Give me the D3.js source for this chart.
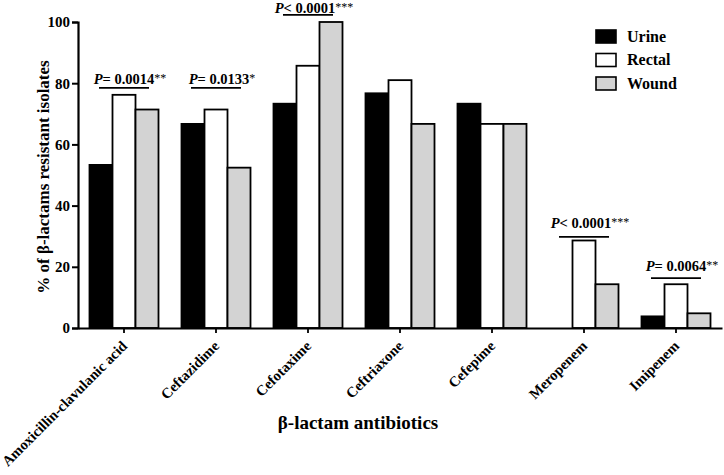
<!DOCTYPE html>
<html><head><meta charset="utf-8">
<script src="https://cdn.jsdelivr.net/npm/d3@7"></script>
<style>body{margin:0;background:#fff}svg{display:block}text{font-family:"Liberation Serif","Times New Roman",Times,serif;font-weight:bold}</style>
</head><body>
<svg id="c" width="724" height="475"></svg>
<script>
const categories = ["Amoxicillin-clavulanic acid","Ceftazidime","Cefotaxime","Ceftriaxone","Cefepime","Meropenem","Imipenem"];
const seriesNames = ["Urine","Rectal","Wound"];
const seriesColors = ["#000000","#ffffff","#d3d3d3"];
const urine  = [53.3, 66.7, 73.3, 76.7, 73.3, 0, 3.8];
const rectal = [76.2, 71.4, 85.7, 81.0, 66.7, 28.6, 14.3];
const wound  = [71.4, 52.4, 100, 66.7, 66.7, 14.3, 4.8];
const yTicks = [0,20,40,60,80,100];
const annotations = [
  {cat:"Amoxicillin-clavulanic acid", op:"=", p:"0.0014", stars:"**", level:78.5, textLevel:79.8},
  {cat:"Ceftazidime", op:"=", p:"0.0133", stars:"*", level:78.5, textLevel:79.8},
  {cat:"Cefotaxime", op:"<", p:"0.0001", stars:"***", level:102.3, textLevel:102.9},
  {cat:"Meropenem", op:"<", p:"0.0001", stars:"***", level:29.8, textLevel:32.6},
  {cat:"Imipenem", op:"=", p:"0.0064", stars:"**", level:16.3, textLevel:18.6}
];

const svg = d3.select("#c");
const mLeft = 78, mRight = 722, mTop = 22, mBottom = 328;
const x = d3.scaleBand().domain(categories).range([mLeft,mRight]).paddingInner(0.25).paddingOuter(0.125);
const xc = d3.scaleBand().domain(categories).range([mLeft,mRight]);
const xs = d3.scaleBand().domain(seriesNames).range([0,x.bandwidth()]);
const y = d3.scaleLinear().domain([0,100]).range([mBottom,mTop]);
const series = [urine,rectal,wound];

// bars
series.forEach((vals,si)=>{
  svg.append("g").selectAll("rect").data(categories).join("rect")
    .attr("x",c=>x(c)+xs(seriesNames[si]))
    .attr("y",(c,i)=>y(vals[i]))
    .attr("width",xs.bandwidth())
    .attr("height",(c,i)=>y(0)-y(vals[i]))
    .attr("fill",seriesColors[si])
    .attr("stroke","#000").attr("stroke-width",(c,i)=>vals[i]>0?1.8:0);
});

// axes
const ya = svg.append("g").attr("transform",`translate(${mLeft},0)`)
  .call(d3.axisLeft(y).tickValues(yTicks).tickSize(6).tickPadding(2));
ya.select(".domain").attr("stroke-width",2.2);
ya.selectAll(".tick line").attr("stroke-width",2);
ya.selectAll(".tick text").attr("font-size",15).attr("fill","#000").attr("font-family","Liberation Serif").attr("font-weight","bold");

const xa = svg.append("g").attr("transform",`translate(0,${mBottom})`)
  .call(d3.axisBottom(xc).tickSize(5).tickSizeOuter(0));
xa.select(".domain").attr("stroke-width",2.2);
xa.selectAll(".tick line").attr("stroke-width",1.8);
xa.selectAll(".tick text").attr("font-size",14.6).attr("fill","#000")
  .attr("font-family","Liberation Serif").attr("font-weight","bold")
  .attr("text-anchor","end").attr("dy",null).attr("y",0)
  .attr("transform","translate(4,19) rotate(-45)");

// axis titles
svg.append("text").attr("transform",`translate(49,${(mTop+mBottom)/2+2}) rotate(-90)`)
  .attr("text-anchor","middle").attr("font-size",17).text("% of β-lactams resistant isolates");
svg.append("text").attr("x",358).attr("y",429).attr("text-anchor","middle").attr("font-size",19).text("β-lactam antibiotics");

// annotations
annotations.forEach(a=>{
  const x1 = x(a.cat)+xs.bandwidth()/2-2, x2 = x(a.cat)+x.bandwidth()-xs.bandwidth()/2+2;
  svg.append("line").attr("x1",x1).attr("x2",x2).attr("y1",y(a.level)).attr("y2",y(a.level))
    .attr("stroke","#000").attr("stroke-width",1.8);
  const t = svg.append("text").attr("x",(x1+x2)/2+6).attr("y",y(a.textLevel)).attr("text-anchor","middle").attr("font-size",14.5);
  t.append("tspan").attr("font-style","italic").text("P");
  t.append("tspan").text(a.op+" "+a.p);
  t.append("tspan").attr("font-weight","normal").attr("font-size",12).attr("dy",-2).text(a.stars);
});

// legend
const lg = svg.append("g").attr("transform","translate(596,30)");
seriesNames.forEach((s,i)=>{
  lg.append("rect").attr("x",0).attr("y",i*23.5).attr("width",20).attr("height",13)
    .attr("fill",seriesColors[i]).attr("stroke","#000").attr("stroke-width",1.6);
  lg.append("text").attr("x",31).attr("y",i*23.5+11.5).attr("font-size",16).text(s);
});
</script>
</body></html>
